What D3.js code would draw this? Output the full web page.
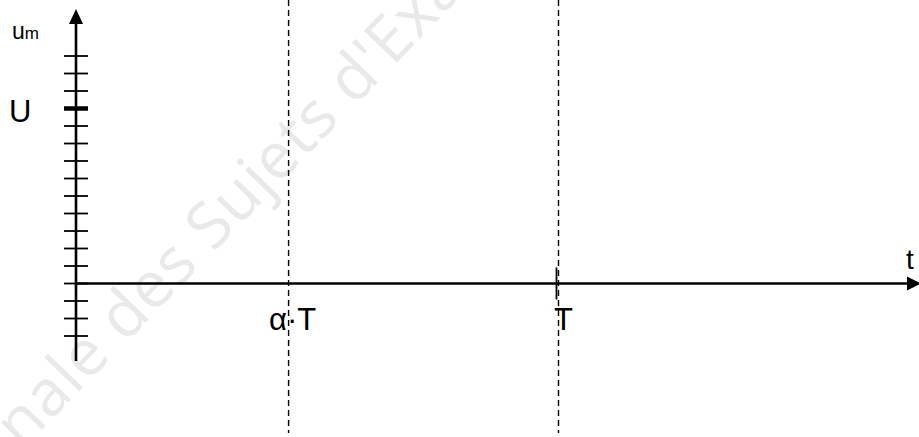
<!DOCTYPE html>
<html lang="fr">
<head>
  <meta charset="UTF-8">
  <title>Tension moyenne u_m</title>
  <script src="https://d3js.org/d3.v7.min.js"></script>
  <style>
    body { margin: 0; background: #fff; }
    svg { display: block; }
    .lbl { font-family: "Liberation Sans", Arial, sans-serif; fill: #000; }
    .wm { font-family: "Open Sans", "DejaVu Sans", sans-serif; fill: #e9e9e9; }
  </style>
</head>
<body>
  <div id="chart"></div>
  <script>
    // graduations de l'axe vertical (en unités, U = 10 unités)
    const yTicks = [-3, -2, -1, 0, 1, 2, 3, 4, 5, 6, 7, 8, 9, 10, 11, 12, 13];
    const levelU = 10;
    // instants repérés (en fraction de la période T)
    const markTimes = [0.44, 1];
    const markLabels = ["α·T", "T"];

    const width = 919;
    const height = 437;

    const svg = d3.select("#chart")
      .append("svg")
      .attr("width", width)
      .attr("height", height);

    const x = d3.scaleLinear().domain([0, 1]).range([76, 558]);
    const y = d3.scaleLinear().domain([0, levelU]).range([283.5, 108.5]);

    // filigrane
    svg.append("text")
      .attr("class", "wm")
      .attr("transform", "translate(264,200) rotate(-46)")
      .attr("text-anchor", "middle")
      .attr("font-size", 64)
      .attr("letter-spacing", 1)
      .text("Annale des Sujets d'Examen");

    // pointillés verticaux
    svg.selectAll("line.dash")
      .data(markTimes)
      .enter()
      .append("line")
      .attr("class", "dash")
      .attr("x1", d => x(d) + 0.5)
      .attr("x2", d => x(d) + 0.5)
      .attr("y1", 0)
      .attr("y2", 433)
      .attr("stroke", "#000")
      .attr("stroke-width", 1.4)
      .attr("stroke-dasharray", "6,4");

    // axe vertical
    svg.append("line")
      .attr("x1", x(0)).attr("x2", x(0))
      .attr("y1", 361).attr("y2", 22)
      .attr("stroke", "#000")
      .attr("stroke-width", 2.6);
    svg.append("path")
      .attr("d", `M${x(0)},9 L${x(0) - 7},24 L${x(0) + 7},24 Z`)
      .attr("fill", "#000");

    // axe horizontal
    svg.append("line")
      .attr("x1", x(0)).attr("x2", 910)
      .attr("y1", y(0)).attr("y2", y(0))
      .attr("stroke", "#000")
      .attr("stroke-width", 2.6);
    svg.append("path")
      .attr("d", `M921,${y(0)} L907,${y(0) - 7} L907,${y(0) + 7} Z`)
      .attr("fill", "#000");

    // graduations
    svg.selectAll("line.tick")
      .data(yTicks)
      .enter()
      .append("line")
      .attr("class", "tick")
      .attr("x1", x(0) - 12)
      .attr("x2", x(0) + 12)
      .attr("y1", d => y(d))
      .attr("y2", d => y(d))
      .attr("stroke", "#000")
      .attr("stroke-width", d => d === levelU ? 4.5 : 1.8);

    // petit trait en T sur l'axe des temps
    svg.append("line")
      .attr("x1", x(1) - 1.5).attr("x2", x(1) - 1.5)
      .attr("y1", y(0) - 16).attr("y2", y(0) + 16)
      .attr("stroke", "#000")
      .attr("stroke-width", 1.8);

    // textes
    const um = svg.append("text")
      .attr("class", "lbl")
      .attr("x", 12)
      .attr("y", 39)
      .attr("font-size", 23);
    um.append("tspan").text("u");
    um.append("tspan").attr("font-size", 17).text("m");

    svg.append("text")
      .attr("class", "lbl")
      .attr("x", 9)
      .attr("y", y(levelU) + 13)
      .attr("font-size", 31)
      .text("U");

    svg.selectAll("text.tlabel")
      .data(markTimes)
      .enter()
      .append("text")
      .attr("class", "lbl tlabel")
      .attr("x", (d, i) => i === 0 ? x(d) - 19 : x(d) - 4)
      .attr("y", 330)
      .attr("font-size", 31)
      .text((d, i) => markLabels[i]);

    svg.append("text")
      .attr("class", "lbl")
      .attr("x", 906)
      .attr("y", 269)
      .attr("font-size", 28)
      .text("t");
  </script>
</body>
</html>
